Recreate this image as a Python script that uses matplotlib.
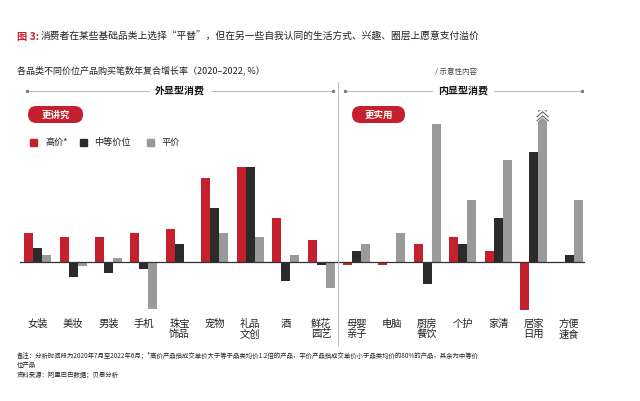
import numpy as np
import matplotlib.pyplot as plt
from matplotlib.patches import FancyBboxPatch, Rectangle

plt.rcParams['font.family'] = ['Noto Sans CJK SC', 'DejaVu Sans']

# categories (outer / inner consumption)
categories = ["女装", "美妆", "男装", "手机", "珠宝\n饰品", "宠物", "礼品\n文创", "酒", "鲜花\n园艺",
              "母婴\n亲子", "电脑", "厨房\n餐饮", "个护", "家清", "居家\n日用", "方便\n速食"]
# relative growth (no axis in the original)
high_price = [29, 25, 25, 29, 33, 84, 95, 44, 22, -3, -3, 18, 25, 11, -48, 0]
mid_price = [14, -15, -11, -7, 18, 54, 95, -19, -3, 11, 0, -22, 18, 44, 110, 7]
low_price = [7, -4, 4, -47, 0, 29, 25, 7, -26, 18, 29, 138, 62, 102, 152, 62]
series_names = ["高价*", "中等价位", "平价"]

RED = "#C4202E"
DARK = "#2B2B2B"
GRAY = "#9A9A9A"
TXT = "#222222"

fig = plt.figure(figsize=(6.4, 4.01), dpi=100)
W, H = 640, 401

# overlay in pixel coordinates for the page furniture
deco = fig.add_axes([0, 0, 1, 1], zorder=3)
deco.set_xlim(0, W)
deco.set_ylim(H, 0)
deco.axis("off")
deco.patch.set_alpha(0)

# title
deco.text(17, 37, "图 3:", color=RED, fontsize=7.4, fontweight="bold", va="center")
deco.text(41, 37, "消费者在某些基础品类上选择“平替”，但在另一些自我认同的生活方式、兴趣、圈层上愿意支付溢价",
          color=TXT, fontsize=7.0, va="center")
deco.text(17, 70, "各品类不同价位产品购买笔数年复合增长率（2020–2022, %）",
          color=TXT, fontsize=6.5, va="center")
deco.text(477, 72, "/ 示意性内容", color="#444444", fontsize=5.4, va="center", ha="right")

# bars (pixel rows 100..320, baseline at 262)
ax = fig.add_axes([20 / W, 1 - 320 / H, 565 / W, 220 / H])
x = np.arange(len(categories))
w = 0.254
ax.bar(x - w, high_price, w, color=RED, label=series_names[0])
ax.bar(x, mid_price, w, color=DARK, label=series_names[1])
ax.bar(x + w, low_price, w, color=GRAY, label=series_names[2])
ax.axhline(0, color="#333333", lw=0.9)
ax.set_xlim(-0.5, 15.45)
ax.set_ylim(-58, 162)
ax.axis("off")

# break mark on the truncated bar
i = categories.index("居家\n日用")
top = low_price[i]
for dy in (-1, -5):
    ax.plot([i + w - 0.16, i + w, i + w + 0.16], [top + dy - 5, top + dy, top + dy - 5],
            color="white", lw=2.6, solid_capstyle="butt", clip_on=False, zorder=4)
    ax.plot([i + w - 0.16, i + w, i + w + 0.16], [top + dy - 5.8, top + dy - 0.8, top + dy - 5.8],
            color="#555555", lw=0.7, clip_on=False, zorder=5)

# category labels
for xi, lab in zip(x, categories):
    ax.text(xi, -57, lab, ha="center", va="top", fontsize=7.4, color=TXT,
            linespacing=1.05, clip_on=False)

# divider
deco.plot([338, 338], [82, 345], color="#BBBBBB", lw=0.7)

# section headers
for x0, x1, xt, label in [(27, 333, 180, "外显型消费"), (345, 582, 463, "内显型消费")]:
    deco.plot([x0, xt - 31], [91, 91], color="#BBBBBB", lw=0.7)
    deco.plot([xt + 31, x1], [91, 91], color="#BBBBBB", lw=0.7)
    deco.plot([x0, x1], [91, 91], ls="none", marker="o", ms=1.4, color="#777777")
    deco.text(xt, 91, label, ha="center", va="center", fontsize=7.2,
              fontweight="bold", color="#111111")

# pills
for x0, x1, label in [(28, 83, "更讲究"), (352, 405, "更实用")]:
    deco.add_patch(FancyBboxPatch((x0, 106), x1 - x0, 17,
                                  boxstyle="round,pad=0,rounding_size=8.5",
                                  facecolor=RED, edgecolor="none"))
    deco.text((x0 + x1) / 2, 114.5, label, ha="center", va="center",
              fontsize=6.8, fontweight="bold", color="white")

# legend
for sx, tx, col, name in [(30, 45, RED, series_names[0]), (80, 94, DARK, series_names[1]),
                          (147, 161, GRAY, series_names[2])]:
    deco.add_patch(Rectangle((sx, 139), 6.5, 6.5, color=col))
    deco.text(tx, 142.5, name, va="center", fontsize=6.6, color=TXT)

# notes
deco.text(17, 356, "备注：分析时间段为2020年7月至2022年6月；*高价产品指成交单价大于等于品类均价1.2倍的产品，"
          "平价产品指成交单价小于品类均价的80%的产品，其余为中等价", fontsize=4.6, va="center", color=TXT)
deco.text(17, 365, "位产品", fontsize=4.6, va="center", color=TXT)
deco.text(17, 374.5, "资料来源：阿里巴巴数据；贝恩分析", fontsize=4.6, va="center", color=TXT)

fig.savefig("out.png", dpi=100)
